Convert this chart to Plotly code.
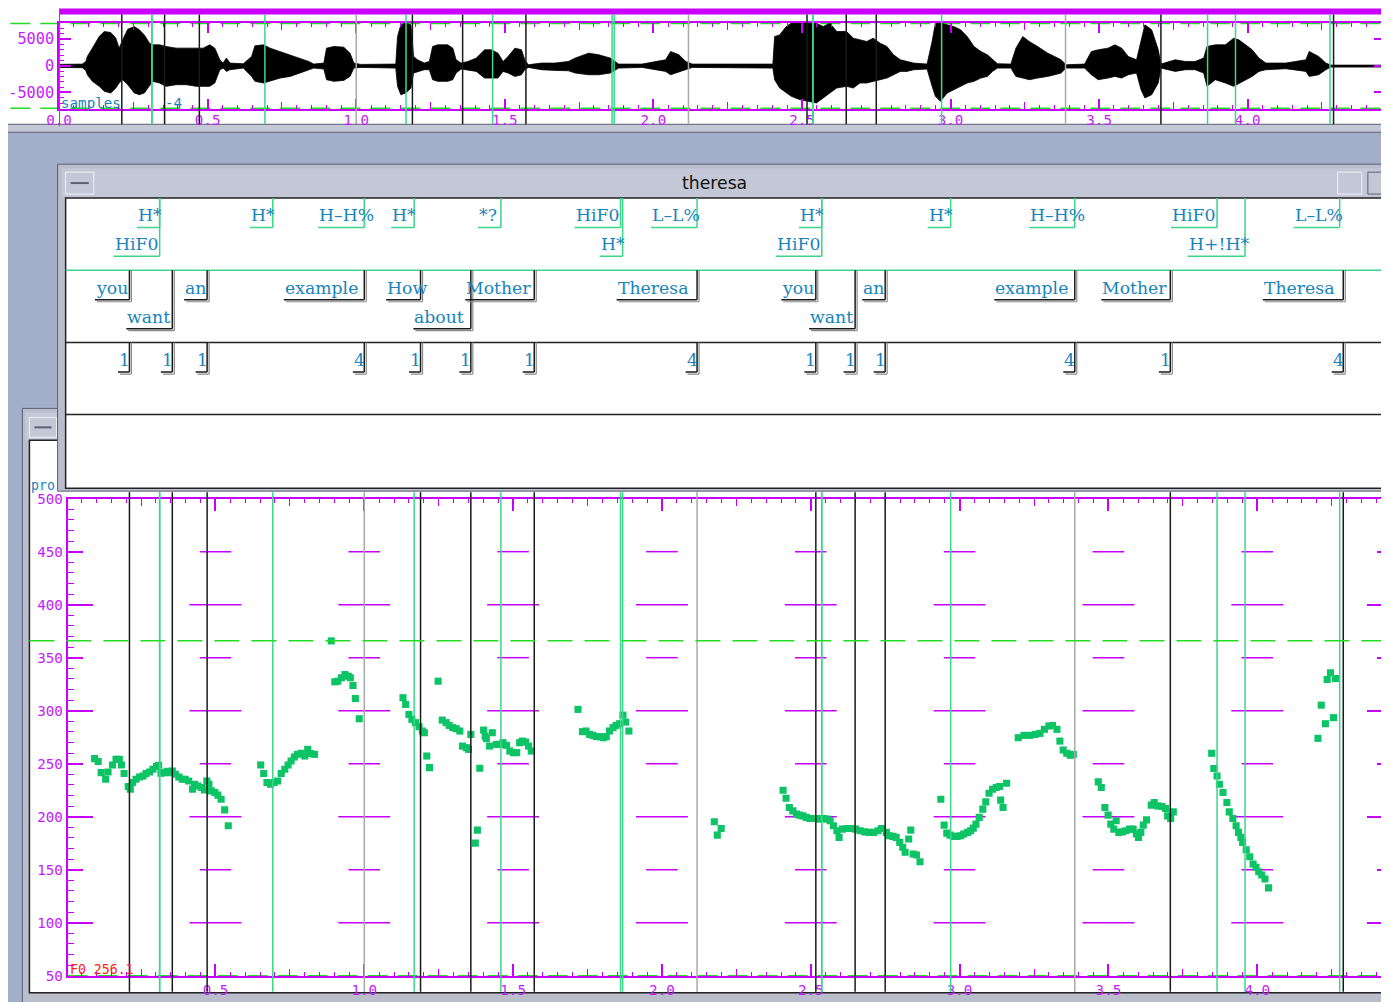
import numpy as np
import plotly.graph_objects as go

# ------------------------------------------------------------------ data
file_name = "theresa"

# waveform envelope (seconds, upper / lower amplitude in samples)
wave_t = [0.0, 0.078, 0.090, 0.095, 0.112, 0.135, 0.152, 0.174, 0.191, 0.202,
          0.214, 0.231, 0.253, 0.270, 0.287, 0.304, 0.315, 0.338, 0.360, 0.394,
          0.428, 0.462, 0.485, 0.507, 0.524, 0.541, 0.552, 0.563, 0.575, 0.620,
          0.648, 0.659, 0.688, 0.710, 0.744, 0.778, 0.811, 0.840, 0.857, 0.891,
          0.900, 0.925, 0.958, 0.979, 0.992, 1.015, 1.133,
          1.139, 1.150, 1.167, 1.184, 1.193, 1.206, 1.229, 1.246, 1.257, 1.274,
          1.308, 1.325, 1.336, 1.353, 1.376, 1.404, 1.432, 1.455, 1.477, 1.494,
          1.511, 1.534, 1.556, 1.567, 1.579, 1.624, 1.669, 1.714, 1.737, 1.782,
          1.816, 1.855, 1.883, 1.962, 2.041, 2.058, 2.086, 2.109, 2.131,
          2.402, 2.408, 2.425, 2.447, 2.464, 2.492, 2.521, 2.549, 2.571, 2.594,
          2.617, 2.650, 2.673, 2.695, 2.718, 2.740, 2.763, 2.786, 2.808, 2.831,
          2.853, 2.876, 2.921, 2.938, 2.949, 2.966, 2.989, 3.011, 3.034, 3.056,
          3.079, 3.102, 3.124, 3.141, 3.158, 3.203, 3.220, 3.243, 3.265, 3.293,
          3.327, 3.350, 3.372,
          3.389, 3.451, 3.474, 3.497, 3.530, 3.553, 3.576, 3.598, 3.626, 3.641,
          3.654, 3.677, 3.699, 3.708, 3.756, 3.790, 3.823, 3.852, 3.863, 3.891,
          3.925, 3.953, 3.970, 3.993, 4.015, 4.038, 4.061, 4.128, 4.196, 4.207,
          4.239, 4.263, 4.280, 4.465]
wave_hi = [250, 310, 810, 1750, 3310, 5490, 6430, 6240, 5180, 3310,
           4870, 6860, 7360, 6740, 5800, 4240, 3930, 3930, 3620, 3310,
           3310, 3310, 3310, 3930, 3310, 1120, 500, 1440, 500, 370,
           1750, 3740, 3930, 3310, 2680, 2060, 1440, 810, 310, 500,
           3310, 3620, 3490, 2370, 500, 250, 310,
           5490, 7680, 7990, 7680, 1750, 1120, 500, 810, 3620, 3930,
           3930, 3310, 1120, 500, 810, 1440, 3000, 3000, 2370, 810,
           1750, 3310, 3000, 1120, 190, 500, 500, 810, 1440, 2370,
           2060, 1440, 310, 310, 1120, 2680, 2060, 810, 310,
           310, 5490, 5800, 7360, 7990, 7990, 7990, 7990, 7360, 7990,
           6430, 6430, 5180, 4870, 4560, 5180, 4240, 3620, 2060, 1120,
           810, 500, 310, 4560, 7990, 7990, 7680, 7360, 6740, 5490,
           3620, 2680, 2060, 1120, 370, 310, 3310, 5490, 4560, 3620,
           2370, 1750, 1120,
           190, 310, 2680, 3000, 3310, 3930, 3310, 1750, 1120, 4870,
           7680, 6740, 3000, 310, 1120, 810, 810, 1440, 3620, 3930,
           3930, 5180, 4870, 3930, 3000, 1440, 500, 500, 1120, 2680,
           1750, 500, 120, 120]
wave_lo = [-310, -370, -870, -1690, -2930, -3870, -4800, -5120, -4180, -3240,
           -2620, -3560, -5120, -5430, -5120, -3870, -2930, -3240, -3870, -3560,
           -3560, -3870, -3870, -3870, -3240, -750, -440, -1060, -750, -440,
           -2000, -2930, -3240, -2930, -2310, -2000, -1370, -750, -440, -620,
           -2620, -2930, -2750, -2000, -440, -310, -440,
           -3870, -5430, -5120, -4180, -1370, -1060, -750, -750, -2620, -2930,
           -2930, -2620, -1370, -620, -750, -1060, -2310, -2310, -2310, -1060,
           -1370, -2000, -1690, -750, -310, -750, -870, -940, -1370, -1690,
           -1690, -1370, -440, -310, -1060, -1690, -1060, -750, -310,
           -440, -2620, -4180, -5120, -5740, -6360, -6680, -6990, -6050, -5120,
           -4180, -3870, -4180, -3240, -3240, -2930, -2620, -2310, -1690, -1060,
           -1060, -750, -620, -3870, -5740, -6680, -5120, -4490, -3870, -3240,
           -2930, -2310, -2000, -1060, -440, -440, -2000, -2310, -2620, -2310,
           -2000, -1690, -1370,
           -440, -440, -1690, -2620, -2310, -2000, -2310, -1690, -1370, -4490,
           -6050, -5430, -3240, -440, -1060, -750, -750, -1370, -3870, -2620,
           -3240, -3870, -3240, -2620, -2000, -1060, -750, -560, -1060, -2000,
           -1690, -750, -250, -250]

# F0 track (seconds, Hz)
f0_t = [0.094, 0.106, 0.116, 0.131, 0.139, 0.154, 0.166, 0.177, 0.184, 0.193,
        0.207, 0.214, 0.222, 0.233, 0.245, 0.257, 0.267, 0.279, 0.290, 0.302,
        0.309, 0.317, 0.327, 0.338, 0.347, 0.355, 0.365, 0.377, 0.388, 0.398,
        0.410, 0.423, 0.430, 0.441, 0.453, 0.463, 0.471, 0.478, 0.486, 0.498,
        0.508, 0.519, 0.531, 0.543,
        0.652, 0.662, 0.673, 0.685, 0.697, 0.709, 0.721, 0.733, 0.744, 0.754,
        0.765, 0.775, 0.788, 0.800, 0.810, 0.821, 0.833,
        0.889, 0.901, 0.911, 0.923, 0.935, 0.946, 0.953, 0.962, 0.970, 0.983,
        1.130, 1.139, 1.150, 1.160, 1.172, 1.184, 1.195, 1.202, 1.210, 1.219,
        1.248, 1.262, 1.275, 1.285, 1.297, 1.309, 1.321, 1.330, 1.343, 1.350,
        1.358, 1.373, 1.380, 1.388, 1.401, 1.406, 1.410, 1.421, 1.430, 1.444,
        1.456, 1.466, 1.478, 1.489, 1.501, 1.512, 1.522, 1.531, 1.542, 1.552,
        1.561,
        1.718, 1.733, 1.745, 1.757, 1.768, 1.780, 1.791, 1.803, 1.813, 1.824,
        1.836, 1.846, 1.858, 1.869, 1.878, 1.889,
        2.176, 2.186, 2.199,
        2.407, 2.417, 2.428, 2.440, 2.452, 2.463, 2.473, 2.485, 2.497, 2.508,
        2.520, 2.530, 2.543, 2.554, 2.565, 2.576, 2.588, 2.595, 2.606, 2.621,
        2.636, 2.651, 2.666, 2.681, 2.696, 2.711, 2.726, 2.738, 2.754, 2.764,
        2.776, 2.787, 2.799, 2.809, 2.817, 2.829, 2.836, 2.844, 2.855, 2.867,
        2.937, 2.948, 2.957, 2.968, 2.980, 2.992, 3.004, 3.014, 3.027, 3.037,
        3.046, 3.055, 3.066, 3.078, 3.088, 3.099, 3.111, 3.123, 3.134, 3.138,
        3.146, 3.158,
        3.197, 3.216, 3.236, 3.254, 3.270, 3.285, 3.300, 3.312, 3.327, 3.337,
        3.348, 3.360, 3.372, 3.382,
        3.466, 3.476, 3.488, 3.499, 3.508, 3.518, 3.526, 3.535, 3.547, 3.559,
        3.571, 3.583, 3.594, 3.601, 3.609, 3.617, 3.628, 3.644, 3.654, 3.666,
        3.680, 3.692, 3.699, 3.709, 3.718,
        3.847, 3.854, 3.865, 3.873, 3.885, 3.898, 3.906, 3.918, 3.929, 3.937,
        3.945, 3.951, 3.963, 3.975, 3.986, 3.996, 4.005, 4.015, 4.026, 4.038,
        4.204, 4.215, 4.229, 4.235, 4.246, 4.256, 4.263]
f0_hz = [254.8, 252.0, 241.6, 235.3, 242.2, 248.8, 254.1, 254.1, 248.8, 240.7,
         228.5, 226.0, 232.2, 235.3, 237.5, 238.4, 240.7, 242.2, 244.7, 247.3,
         248.5, 241.0, 241.6, 242.8, 241.6, 243.1, 240.0, 237.5, 235.3, 235.3,
         233.7, 226.0, 230.6, 229.0, 227.5, 225.3, 233.7, 230.6, 224.3, 222.8,
         220.3, 216.5, 206.4, 191.4,
         248.8, 240.7, 232.2, 230.6, 232.2, 233.7, 240.7, 244.7, 248.8, 252.5,
         256.3, 258.8, 259.8, 257.2, 263.5, 259.5, 258.8,
         365.8, 327.2, 327.8, 331.0, 334.1, 332.5, 331.0, 323.7, 311.5, 292.4,
         312.2, 305.9, 296.5, 291.8, 288.7, 284.9, 280.8, 279.2, 257.2, 246.3,
         327.8, 291.1, 288.7, 286.1, 284.0, 283.0, 280.8, 266.6, 265.1, 263.5,
         277.6, 175.1, 187.3, 245.7, 281.7, 276.0, 273.6, 266.6, 279.2, 268.2,
         268.2, 269.8, 267.3, 261.9, 260.4, 260.4, 269.8, 271.3, 270.4, 266.6,
         261.9,
         301.2, 280.2, 280.8, 277.6, 276.7, 275.5, 275.5, 274.5, 275.5, 280.8,
         284.0, 286.1, 287.7, 295.8, 289.2, 280.8,
         195.2, 182.6, 188.9,
         225.0, 217.4, 208.7, 205.5, 202.4, 201.5, 200.8, 199.3, 198.3, 198.3,
         198.3, 197.7, 198.3, 197.7, 196.1, 191.4, 186.7, 180.5, 188.3, 188.9,
         188.9, 188.3, 186.7, 185.7, 185.2, 185.2, 186.7, 188.9, 185.2, 182.0,
         181.4, 180.5, 175.8, 171.1, 166.4, 178.9, 187.3, 164.8, 163.8, 157.5,
         216.5, 192.0, 184.5, 182.6, 181.4, 181.4, 182.0, 183.6, 185.2, 186.7,
         189.2, 193.0, 199.3, 207.1, 214.0, 222.1, 225.9, 227.5, 228.5, 215.6,
         208.7, 231.6,
         274.5, 276.7, 276.7, 277.6, 278.6, 282.4, 285.5, 286.1, 282.4, 271.3,
         262.9, 259.8, 257.9, 258.8,
         232.8, 227.5, 208.7, 201.5, 193.0, 188.3, 196.1, 185.2, 185.7, 186.7,
         188.3, 188.3, 183.6, 180.5, 185.2, 192.0, 197.0, 210.9, 213.4, 210.2,
         209.6, 207.7, 200.8, 198.3, 204.5,
         259.8, 245.4, 238.4, 230.6, 222.8, 213.4, 204.5, 198.3, 191.4, 185.2,
         180.5, 175.8, 168.8, 162.2, 155.4, 152.3, 148.1, 145.0, 141.2, 132.8,
         273.9, 305.2, 287.7, 329.4, 335.7, 293.4, 330.3]

# label tiers
tone_labels = ["H*", "HiF0", "H*", "H–H%", "H*", "*?", "HiF0", "H*", "L–L%",
               "H*", "HiF0", "H*", "H–H%", "HiF0", "H+!H*", "L–L%"]
tone_times = [0.3125, 0.3125, 0.6926, 1.000, 1.1676, 1.459, 1.861, 1.868, 2.118,
              2.537, 2.537, 2.970, 3.387, 3.865, 3.959, 4.277]
word_labels = ["you", "want", "an", "example", "How", "about", "Mother", "Theresa",
               "you", "want", "an", "example", "Mother", "Theresa"]
word_times = [0.211, 0.355, 0.472, 1.000, 1.189, 1.358, 1.571, 2.118,
              2.517, 2.649, 2.750, 3.387, 3.708, 4.289]
break_labels = ["1", "1", "1", "4", "1", "1", "1", "4", "1", "1", "1", "4", "1", "4"]

f0_cursor = 366.0
f0_readout = "F0 256.1"
f0_levels_long = [100, 200, 300, 400]
f0_levels_short = [150, 250, 350, 450]

# ------------------------------------------------------------------ style
W, H = 1389, 1002
# the page is captured slightly scaled and offset; coordinates below are
# written in screen pixels and converted through these constants
SX, SY = 0.983, 0.987
OX, OY = 23.6, 14.4
FS = 1 / 0.985            # font / pixel-size compensation

MAG = "#c800ff"
MAG_TXT = "#c41cff"
TEAL = "#1784bb"
GREEN_B = "#3cd68a"
GREEN_D = "#22dd22"
F0_GREEN = "#0cc466"
BG = "#a3aec9"
WIN = "#b9bdcc"
BAR = "#c4c8d6"
DARK = "#5c6073"
MONO = "DejaVu Sans Mono"
SERIF = "DejaVu Serif"
PPS = 296.0          # screen pixels per second in label / F0 windows
WPPS = 295.5         # screen pixels per second in waveform window
CHAR_PX = 11.3 / SX  # xwaves label cell width (layout px)


def PX(x):
    return (x - OX) / SX / W


def PY(y):
    return 1 - (y - OY) / SY / H


def xmap(px0, px1, t0_px, pps):
    a = max(px0, OX)
    b = min(px1, OX + SX * W)
    return [PX(a), PX(b)], [(a - t0_px) / pps, (b - t0_px) / pps]


def ydom(py_bottom, py_top):
    return [max(0.0, PY(py_bottom)), min(1.0, PY(py_top))]


shapes = []
annos = []


def prect(x0, y0, x1, y1, fill, line=None, lw=1, layer="below"):
    shapes.append(dict(type="rect", xref="paper", yref="paper", x0=PX(x0), x1=PX(x1),
                       y0=PY(y1), y1=PY(y0), fillcolor=fill, layer=layer,
                       line=dict(color=line or fill, width=lw if line else 0)))


def pline(x0, y0, x1, y1, color, width=1, dash=None, layer="above"):
    shapes.append(dict(type="line", xref="paper", yref="paper", x0=PX(x0), x1=PX(x1),
                       y0=PY(y0), y1=PY(y1), layer=layer,
                       line=dict(color=color, width=width, dash=dash)))


def ptext(x, y, s, color, size=14, family=MONO, xanchor="left"):
    annos.append(dict(xref="paper", yref="paper", x=PX(x), y=PY(y), text=s,
                      showarrow=False, xanchor=xanchor, yanchor="middle",
                      font=dict(family=family, size=size * FS, color=color)))


# ------------------------------------------------------------------ windows (background)
# waveform window
prect(0, 0, 1400, 123, "white")
prect(1380, 0, 1400, 131, BAR)
prect(0, 123, 1400, 131, BAR, line=DARK, lw=1)
# F0 window
prect(22, 408, 1400, 1010, WIN, line=DARK, lw=1)
prect(25, 412, 1400, 440, BAR)
prect(29, 417, 56, 437, BAR, line="#eef0f6", lw=1)
pline(34, 427, 51, 427, DARK, 2, layer="below")
prect(29, 440, 1385, 994, "white", line="#222222", lw=1.5)
# label window
prect(57, 163, 1400, 491, WIN, line=DARK, lw=1)
prect(61, 167, 1386, 196, BAR)
prect(65, 171, 93, 193, BAR, line="#eef0f6", lw=1)
pline(70, 182, 88, 182, DARK, 2, layer="below")
prect(1330, 171, 1354, 193, BAR, line="#eef0f6", lw=1)
prect(1360, 171, 1384, 193, BAR, line=DARK, lw=1)
prect(65, 197, 1387, 488, "white", line="#222222", lw=1.5)
# tier separators
pline(65, 269.5, 1387, 269.5, GREEN_B, 1.5, layer="below")
pline(65, 342, 1387, 342, "#222222", 1.5, layer="below")
pline(65, 414, 1387, 414, "#222222", 1.5, layer="below")

# waveform decorations
prect(58.5, 7, 1378, 13, MAG, layer="above")
pline(10, 22, 1378, 22, GREEN_D, 1.5, dash="20px,10px", layer="below")
pline(10, 107, 1378, 107, GREEN_D, 1.5, dash="20px,10px", layer="below")
# F0 decorations
pline(67, 977, 1384, 977, GREEN_D, 1.5, dash="20px,10px", layer="below")

# ------------------------------------------------------------------ boundary lines
def close_to(t, arr, tol=0.004):
    return any(abs(t - a) < tol for a in arr)


for t in tone_times:
    if close_to(t, word_times):
        continue
    for xr, ya, yb in (("x", 13, 123), ("x3", 492, 993)):
        shapes.append(dict(type="line", xref=xr, yref="paper", x0=t, x1=t,
                           y0=PY(yb), y1=PY(ya), line=dict(color=GREEN_B, width=1.5)))
for t in word_times:
    col = "#a9a9a9" if close_to(t, tone_times) else "#1a1a1a"
    for xr, ya, yb in (("x", 13, 123), ("x3", 492, 993)):
        shapes.append(dict(type="line", xref=xr, yref="paper", x0=t, x1=t,
                           y0=PY(yb), y1=PY(ya), line=dict(color=col, width=1.5)))
# t = 0 cursor on the waveform
shapes.append(dict(type="line", xref="x", yref="paper", x0=0, x1=0, y0=PY(125), y1=PY(8),
                   line=dict(color="#ff2a55", width=2)))
# F0 cursor line
shapes.append(dict(type="line", xref="paper", yref="y3", x0=PX(29), x1=PX(1384),
                   y0=f0_cursor, y1=f0_cursor,
                   line=dict(color=GREEN_D, width=1.5, dash="25px,12px")))

# ------------------------------------------------------------------ label tiers
TIER_TOP = [0, 72.5, 145, 217.5]     # screen-pixel offsets inside the label area
ROW_UL = [29.5, 58.5]
char_s = 11.3 / PPS


def assign_rows(times, labels):
    rows, last = [], -1e9
    for t, lab in zip(times, labels):
        if t - len(lab) * char_s < last:
            rows.append(1)
        else:
            rows.append(0)
            last = t
    return rows


def draw_tier(times, labels, tier, line_col, shadow):
    rows = assign_rows(times, labels)
    top = TIER_TOP[tier]
    for t, lab, r in zip(times, labels, rows):
        ul = top + ROW_UL[r]
        w = len(lab) * CHAR_PX
        shapes.append(dict(type="line", xref="x2", yref="y2", x0=t, x1=t, y0=top, y1=ul,
                           line=dict(color=line_col, width=1.5)))
        shapes.append(dict(type="line", xref="x2", xsizemode="pixel", xanchor=t,
                           x0=-w, x1=0, yref="y2", y0=ul, y1=ul,
                           line=dict(color=line_col, width=1.5)))
        if shadow:
            shapes.append(dict(type="line", xref="x2", xsizemode="pixel", xanchor=t,
                               x0=2, x1=2, yref="y2", y0=top, y1=ul + 2,
                               line=dict(color="#8a8a8a", width=1.2)))
            shapes.append(dict(type="line", xref="x2", xsizemode="pixel", xanchor=t,
                               x0=-w + 2, x1=2, yref="y2", ysizemode="pixel", yanchor=ul,
                               y0=-2, y1=-2, line=dict(color="#8a8a8a", width=1.2)))
        annos.append(dict(xref="x2", yref="y2", x=t, y=ul, text=lab, showarrow=False,
                          xanchor="left", yanchor="bottom", xshift=-w, yshift=1,
                          borderpad=0,
                          font=dict(family=SERIF, size=17 * FS, color=TEAL)))


draw_tier(tone_times, tone_labels, 0, GREEN_B, False)
draw_tier(word_times, word_labels, 1, "#1a1a1a", True)
draw_tier(word_times, break_labels, 2, "#1a1a1a", True)

# ------------------------------------------------------------------ texts
ptext(710, 182, file_name, "#111111", 17, "DejaVu Sans", "center")
ptext(58, 102, "samples", TEAL, 14)
ptext(162, 102, "-4", TEAL, 14)
ptext(29, 485, "pro", TEAL, 13)
ptext(67, 971, f0_readout, "#ff2020", 13)

# ------------------------------------------------------------------ traces
fig = go.Figure()
fig.add_trace(go.Scatter(x=wave_t + wave_t[::-1], y=wave_hi + wave_lo[::-1],
                         fill="toself", fillcolor="black", mode="lines",
                         line=dict(color="black", width=0.8),
                         xaxis="x", yaxis="y"))
grid_t = np.arange(0.5, 4.01, 0.5)
for levels, length in ((f0_levels_long, 51), (f0_levels_short, 31)):
    gx = [t for t in grid_t for _ in levels]
    gy = [v for _ in grid_t for v in levels]
    fig.add_trace(go.Scatter(x=gx, y=gy, mode="markers", xaxis="x3", yaxis="y3",
                             marker=dict(symbol="line-ew", size=length / 1.4 / SX,
                                         line=dict(color=MAG, width=1.5))))
fig.add_trace(go.Scatter(x=f0_t, y=f0_hz, mode="markers", xaxis="x3", yaxis="y3",
                         marker=dict(symbol="square", size=7 * FS, color=F0_GREEN,
                                     line=dict(width=0))))
# invisible anchors so every axis pair is built
for xa, ya in (("x2", "y2"), ("x4", "y"), ("x5", "y3"), ("x3", "y4")):
    fig.add_trace(go.Scatter(x=[1], y=[None], mode="markers", xaxis=xa, yaxis=ya,
                             marker=dict(opacity=0)))

tick_font = dict(family=MONO, size=14 * FS, color=MAG_TXT)
minor_x = dict(dtick=0.05, tick0=0, ticks="inside", ticklen=4, tickcolor=MAG, tickwidth=1.2)

wave_dom, wave_x_range = xmap(58.5, 1378, 58.5, WPPS)
lab_dom, lab_x_range = xmap(65, 1387, 66, PPS)
f0_dom, f0_x_range = xmap(67, 1384, 66, PPS)

fig.update_layout(
    width=W, height=H, margin=dict(l=0, r=0, t=0, b=0),
    paper_bgcolor=BG, plot_bgcolor="rgba(0,0,0,0)",
    showlegend=False, hovermode=False,
    shapes=shapes, annotations=annos,
    xaxis=dict(domain=wave_dom, range=wave_x_range, anchor="y",
               showline=True, linecolor=MAG, linewidth=2, mirror="ticks",
               ticks="inside", ticklen=10, tickcolor=MAG, tickwidth=1.5,
               dtick=0.5, tick0=0, tickformat=".1f", tickfont=tick_font,
               ticklabelstandoff=-3,
               minor=minor_x, showgrid=False, zeroline=False),
    xaxis4=dict(overlaying="x", range=wave_x_range, anchor="y", ticks="inside",
                ticklen=7, tickcolor=MAG, tickwidth=1.2, dtick=0.25, tick0=0,
                showticklabels=False, showline=False, mirror="ticks",
                showgrid=False, zeroline=False),
    yaxis=dict(domain=ydom(108, 21), range=[-8185, 8110], anchor="x",
               showline=True, linecolor=MAG, linewidth=2, mirror="ticks",
               ticks="inside", ticklen=12, tickcolor=MAG, tickwidth=1.5,
               tickmode="array", tickvals=[-5000, 0, 5000],
               ticktext=["-5000", "0", "5000"],
               tickfont=dict(family=MONO, size=15 * FS, color=MAG_TXT),
               minor=dict(tickmode="linear", tick0=0, dtick=1000, ticks="inside",
                          ticklen=5, tickcolor=MAG, tickwidth=1.2),
               showgrid=False, zeroline=False),
    xaxis2=dict(domain=lab_dom, range=lab_x_range, anchor="y2", visible=False),
    yaxis2=dict(domain=ydom(488, 197), range=[291, 0], anchor="x2", visible=False),
    xaxis3=dict(domain=f0_dom, range=f0_x_range, anchor="y3",
                showline=True, linecolor=MAG, linewidth=2, mirror="ticks",
                ticks="inside", ticklen=12, tickcolor=MAG, tickwidth=1.5,
                dtick=0.5, tick0=0, tickformat=".1f", tickfont=tick_font,
                minor=minor_x, showgrid=False, zeroline=False),
    xaxis5=dict(overlaying="x3", range=f0_x_range, anchor="y3", ticks="inside",
                ticklen=7, tickcolor=MAG, tickwidth=1.2, dtick=0.25, tick0=0,
                showticklabels=False, showline=False, mirror="ticks",
                showgrid=False, zeroline=False),
    yaxis3=dict(domain=ydom(977, 498.5), range=[50, 500], anchor="x3",
                showline=True, linecolor=MAG, linewidth=2, mirror="ticks",
                ticks="inside", ticklen=15, tickcolor=MAG, tickwidth=1.5,
                dtick=50, tick0=0, tickfont=tick_font,
                minor=dict(dtick=10, tick0=0, ticks="inside", ticklen=6,
                           tickcolor=MAG, tickwidth=1.2),
                showgrid=False, zeroline=False),
    yaxis4=dict(overlaying="y3", range=[50, 500], anchor="x3", ticks="inside",
                ticklen=25, tickcolor=MAG, tickwidth=1.5, dtick=100, tick0=0,
                showticklabels=False, showline=False, mirror="ticks",
                showgrid=False, zeroline=False),
)

fig.write_html("out.html")
